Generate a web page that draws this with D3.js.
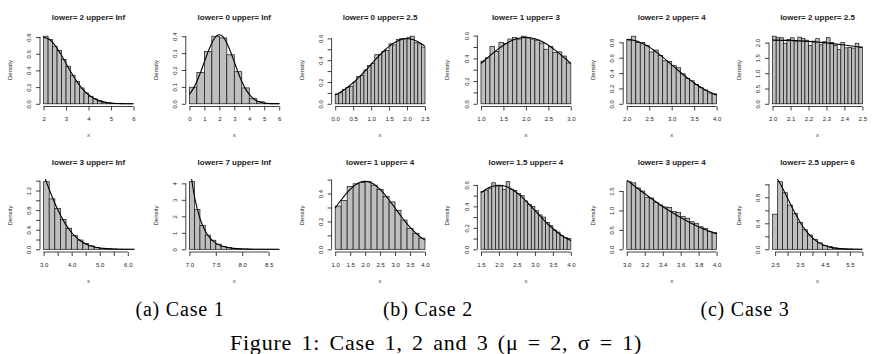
<!DOCTYPE html>
<html>
<head>
<meta charset="utf-8">
<script src="https://cdn.jsdelivr.net/npm/d3@7"></script>
<style>
  body { margin: 0; background: #fff; }
  svg text { font-family: "Liberation Sans", Arial, sans-serif; fill: #222; }
  .cap { font-family: "Liberation Serif", "Times New Roman", serif; fill: #000; }
</style>
</head>
<body>
<svg id="chart" width="872" height="354"></svg>
<script>
// panel titles, row by row
const titles = [
  "lower= 2 upper= Inf", "lower= 0 upper= Inf", "lower= 0 upper= 2.5",
  "lower= 1 upper= 3", "lower= 2 upper= 4", "lower= 2 upper= 2.5",
  "lower= 3 upper= Inf", "lower= 7 upper= Inf", "lower= 1 upper= 4",
  "lower= 1.5 upper= 4", "lower= 3 upper= 4", "lower= 2.5 upper= 6"
];

// histogram breaks: first break and bin width
const binStart = [2, 0, 0, 1, 2, 2, 3, 7, 1, 1.5, 3, 2.4];
const binWidth = [0.2, 0.5, 0.1, 0.1, 0.1, 0.02, 0.2, 0.1, 0.2, 0.1, 0.05, 0.2];

// bar heights (density)
const density = [
  [0.81, 0.77, 0.69, 0.64, 0.53, 0.45, 0.34, 0.27, 0.19, 0.13, 0.09, 0.06, 0.035, 0.02, 0.012, 0.006, 0.003, 0.002, 0.001, 0.0005],
  [0.098, 0.186, 0.31, 0.40, 0.39, 0.29, 0.19, 0.094, 0.03, 0.012, 0.003, 0.001],
  [0.09, 0.10, 0.13, 0.15, 0.16, 0.20, 0.25, 0.26, 0.31, 0.35, 0.37, 0.45, 0.45, 0.48, 0.49, 0.55, 0.54, 0.59, 0.60, 0.60, 0.61, 0.62, 0.56, 0.55, 0.52],
  [0.376, 0.405, 0.506, 0.46, 0.54, 0.53, 0.57, 0.585, 0.57, 0.595, 0.58, 0.57, 0.56, 0.535, 0.48, 0.505, 0.45, 0.457, 0.42, 0.36],
  [0.84, 0.88, 0.80, 0.80, 0.76, 0.675, 0.70, 0.63, 0.56, 0.55, 0.50, 0.47, 0.39, 0.33, 0.30, 0.25, 0.21, 0.18, 0.14, 0.13],
  [2.21, 2.16, 2.16, 1.98, 2.10, 2.16, 2.05, 2.18, 2.14, 2.08, 1.91, 2.05, 2.13, 1.93, 2.03, 2.16, 2.00, 1.91, 1.77, 2.00, 1.83, 1.84, 1.82, 1.98, 1.86],
  [1.38, 1.03, 0.83, 0.61, 0.43, 0.28, 0.19, 0.12, 0.07, 0.04, 0.02, 0.011, 0.006, 0.003, 0.0015, 0.0006],
  [4.10, 2.42, 1.44, 0.86, 0.55, 0.31, 0.18, 0.10, 0.055, 0.03, 0.017, 0.009, 0.005, 0.003, 0.0015, 0.001, 0.0005],
  [0.31, 0.35, 0.45, 0.47, 0.48, 0.485, 0.46, 0.43, 0.38, 0.34, 0.28, 0.21, 0.15, 0.115, 0.08],
  [0.54, 0.55, 0.57, 0.62, 0.59, 0.59, 0.56, 0.63, 0.56, 0.55, 0.52, 0.50, 0.45, 0.42, 0.40, 0.36, 0.32, 0.30, 0.25, 0.22, 0.18, 0.16, 0.13, 0.11, 0.10],
  [1.74, 1.71, 1.58, 1.50, 1.34, 1.32, 1.21, 1.14, 1.09, 1.08, 0.97, 0.95, 0.84, 0.80, 0.71, 0.67, 0.58, 0.54, 0.46, 0.43],
  [0.54, 1.04, 0.87, 0.68, 0.55, 0.41, 0.30, 0.22, 0.15, 0.10, 0.06, 0.04, 0.02, 0.012, 0.006, 0.003, 0.002, 0.001]
];

// density curve read at regular x steps
const curveStart = [2, 0, 0, 1, 2, 2, 3, 7, 1, 1.5, 3, 2.5];
const curveStep = [0.25, 0.25, 0.1, 0.1, 0.1, 0.1, 0.25, 0.1, 0.2, 0.1, 0.1, 0.25];
const curveVals = [
  [0.798, 0.773, 0.704, 0.602, 0.484, 0.365, 0.259, 0.173, 0.108, 0.063, 0.035, 0.018, 0.0089, 0.0041, 0.0017, 0.0007, 0.0003],
  [0.0553, 0.0883, 0.1325, 0.1869, 0.2476, 0.3081, 0.3603, 0.3957, 0.4082, 0.3957, 0.3603, 0.3081, 0.2476, 0.1869, 0.1325, 0.0883, 0.0553, 0.0324, 0.0179, 0.0093, 0.0045, 0.0020, 0.0009, 0.0004, 0.0001],
  [0.081, 0.098, 0.118, 0.141, 0.166, 0.194, 0.224, 0.256, 0.290, 0.326, 0.362, 0.398, 0.433, 0.467, 0.498, 0.527, 0.551, 0.570, 0.585, 0.594, 0.597, 0.594, 0.585, 0.570, 0.551, 0.527],
  [0.3545, 0.3898, 0.4243, 0.4575, 0.4881, 0.5158, 0.5395, 0.5587, 0.5727, 0.5815, 0.5843, 0.5815, 0.5727, 0.5587, 0.5395, 0.5158, 0.4881, 0.4575, 0.4243, 0.3898, 0.3545],
  [0.836, 0.832, 0.819, 0.799, 0.772, 0.738, 0.698, 0.654, 0.607, 0.558, 0.507, 0.457, 0.407, 0.359, 0.314, 0.271, 0.232, 0.197, 0.166, 0.138, 0.113],
  [2.083, 2.073, 2.042, 1.992, 1.923, 1.839],
  [1.525, 1.151, 0.816, 0.544, 0.340, 0.200, 0.110, 0.0574, 0.0279, 0.0128, 0.0055, 0.0022, 0.0008, 0.0003],
  [5.186, 3.129, 1.867, 1.106, 0.647, 0.376, 0.216, 0.123, 0.069, 0.0385, 0.0212, 0.0116, 0.0063, 0.0034, 0.0018, 0.00095, 0.00048, 0.00025],
  [0.2956, 0.3539, 0.4070, 0.4499, 0.4776, 0.4873, 0.4776, 0.4499, 0.4070, 0.3539, 0.2956, 0.2372, 0.1829, 0.1355, 0.0965, 0.0660],
  [0.5265, 0.5508, 0.5704, 0.5847, 0.5937, 0.5965, 0.5937, 0.5847, 0.5704, 0.5508, 0.5265, 0.4983, 0.4670, 0.4332, 0.3979, 0.3619, 0.3259, 0.2904, 0.2563, 0.2239, 0.1937, 0.1658, 0.1406, 0.1181, 0.0981, 0.0808],
  [1.781, 1.603, 1.429, 1.261, 1.101, 0.953, 0.816, 0.692, 0.581, 0.483, 0.397],
  [1.141, 0.976, 0.784, 0.592, 0.420, 0.280, 0.175, 0.103, 0.0567, 0.0295, 0.0144, 0.0066, 0.0028, 0.0011, 0.0004]
];

// tick labels
const xTicks = [
  ["2", "3", "4", "5", "6"],
  ["0", "1", "2", "3", "4", "5", "6"],
  ["0.0", "0.5", "1.0", "1.5", "2.0", "2.5"],
  ["1.0", "1.5", "2.0", "2.5", "3.0"],
  ["2.0", "2.5", "3.0", "3.5", "4.0"],
  ["2.0", "2.1", "2.2", "2.3", "2.4", "2.5"],
  ["3.0", "3.5", "4.0", "4.5", "5.0", "5.5", "6.0"],
  ["7.0", "7.5", "8.0", "8.5"],
  ["1.0", "1.5", "2.0", "2.5", "3.0", "3.5", "4.0"],
  ["1.5", "2.0", "2.5", "3.0", "3.5", "4.0"],
  ["3.0", "3.2", "3.4", "3.6", "3.8", "4.0"],
  ["2.5", "3.0", "3.5", "4.0", "4.5", "5.0", "5.5", "6.0"]
];
const yTicks = [
  ["0.0", "0.2", "0.4", "0.6", "0.8"],
  ["0.0", "0.1", "0.2", "0.3", "0.4"],
  ["0.0", "0.1", "0.2", "0.3", "0.4", "0.5", "0.6"],
  ["0.0", "0.1", "0.2", "0.3", "0.4", "0.5", "0.6"],
  ["0.0", "0.2", "0.4", "0.6", "0.8"],
  ["0.0", "0.5", "1.0", "1.5", "2.0"],
  ["0.0", "0.2", "0.4", "0.6", "0.8", "1.0", "1.2", "1.4"],
  ["0", "1", "2", "3", "4"],
  ["0.0", "0.1", "0.2", "0.3", "0.4", "0.5"],
  ["0.0", "0.1", "0.2", "0.3", "0.4", "0.5", "0.6"],
  ["0.0", "0.5", "1.0", "1.5"],
  ["0.0", "0.2", "0.4", "0.6", "0.8", "1.0"]
];
// R drops labels that would overlap: keep every n-th one
const xLabelEvery = [1, 1, 1, 1, 1, 1, 2, 1, 1, 1, 1, 2];
const yLabelEvery = [1, 1, 2, 2, 1, 1, 2, 1, 2, 2, 1, 2];

const subCaptions = ["(a) Case 1", "(b) Case 2", "(c) Case 3"];
const figCaption = "Figure 1: Case 1, 2 and 3 (\u03BC = 2, \u03C3 = 1)";

const svg = d3.select("#chart");
const colStep = 145.8, plotW = 97, plotH = 73;
const rowTop = [33.5, 179];

titles.forEach(function (title, i) {
  const col = i % 6, row = Math.floor(i / 6);
  const left = 40 + col * colStep, top = rowTop[row], bottom = top + plotH;

  const bars = density[i].map((d, k) => ({
    x0: binStart[i] + k * binWidth[i],
    x1: binStart[i] + (k + 1) * binWidth[i],
    d: d
  }));
  const b0 = bars[0].x0, b1 = bars[bars.length - 1].x1;
  const ymax = d3.max(density[i]);

  // R pads the data range by 4% on each side
  const x = d3.scaleLinear()
    .domain([b0 - 0.04 * (b1 - b0), b1 + 0.04 * (b1 - b0)])
    .range([left, left + plotW]);
  const y = d3.scaleLinear()
    .domain([-0.04 * ymax, 1.04 * ymax])
    .range([bottom, top]);

  const g = svg.append("g");

  g.append("clipPath").attr("id", "clip" + i)
    .append("rect")
    .attr("x", left).attr("y", top).attr("width", plotW).attr("height", plotH);

  g.append("g").selectAll("rect")
    .data(bars)
    .join("rect")
    .attr("x", (d) => x(d.x0))
    .attr("y", (d) => y(d.d))
    .attr("width", (d) => x(d.x1) - x(d.x0))
    .attr("height", (d) => y(0) - y(d.d))
    .attr("fill", "#bebebe")
    .attr("stroke", "#111")
    .attr("stroke-width", 0.7);

  const pts = curveVals[i].map((v, k) => [curveStart[i] + k * curveStep[i], v]);
  g.append("path")
    .datum(pts)
    .attr("clip-path", "url(#clip" + i + ")")
    .attr("fill", "none")
    .attr("stroke", "#000")
    .attr("stroke-width", 1.1)
    .attr("d", d3.line().x((d) => x(d[0])).y((d) => y(d[1])).curve(d3.curveMonotoneX));

  // x axis
  const xt = xTicks[i];
  const xAxis = d3.axisBottom(x)
    .tickValues(xt.map(Number))
    .tickFormat((d, k) => (k % xLabelEvery[i] === 0 ? xt[k] : ""))
    .tickSize(4)
    .tickSizeOuter(0);
  const gx = g.append("g").attr("transform", `translate(0,${bottom})`).call(xAxis);
  gx.select(".domain").attr("d", `M${x(+xt[0])},0H${x(+xt[xt.length - 1])}`);
  gx.selectAll("text").attr("y", 14.5).attr("dy", 0).style("font-size", "6px");

  // y axis, labels parallel to the axis
  const yt = yTicks[i];
  const yAxis = d3.axisLeft(y)
    .tickValues(yt.map(Number))
    .tickFormat((d, k) => (k % yLabelEvery[i] === 0 ? yt[k] : ""))
    .tickSize(4)
    .tickSizeOuter(0);
  const gy = g.append("g").attr("transform", `translate(${left},0)`).call(yAxis);
  gy.select(".domain").attr("d", `M0,${y(+yt[0])}V${y(+yt[yt.length - 1])}`);
  gy.selectAll("text")
    .attr("transform", "rotate(-90)")
    .attr("x", 0).attr("y", -8.8).attr("dy", 0)
    .attr("text-anchor", "middle")
    .style("font-size", "6px");

  g.selectAll(".domain, .tick line").attr("stroke", "#111").attr("stroke-width", 0.8);

  const mid = left + plotW / 2;
  g.append("text")
    .attr("x", mid).attr("y", top - 14)
    .attr("text-anchor", "middle")
    .style("font-size", "8px").style("font-weight", "bold")
    .text(title);

  g.append("text")
    .attr("x", mid).attr("y", bottom + 30.5)
    .attr("text-anchor", "middle")
    .style("font-size", "6px")
    .style("fill", "#444")
    .text("x");

  g.append("text")
    .attr("transform", `translate(${left - 28},${(top + bottom) / 2}) rotate(-90)`)
    .attr("text-anchor", "middle")
    .style("font-size", "6px")
    .text("Density");
});

const capX = [180, 428, 745];
svg.selectAll("text.sub")
  .data(subCaptions)
  .join("text")
  .attr("class", "cap sub")
  .attr("x", (d, k) => capX[k])
  .attr("y", 316)
  .attr("text-anchor", "middle")
  .style("font-size", "20px")
  .style("letter-spacing", "0.8px")
  .text((d) => d);

svg.append("text")
  .attr("class", "cap")
  .attr("x", 436).attr("y", 350)
  .attr("text-anchor", "middle")
  .style("font-size", "22px")
  .style("letter-spacing", "0.8px")
  .style("word-spacing", "3px")
  .text(figCaption);
</script>
</body>
</html>
